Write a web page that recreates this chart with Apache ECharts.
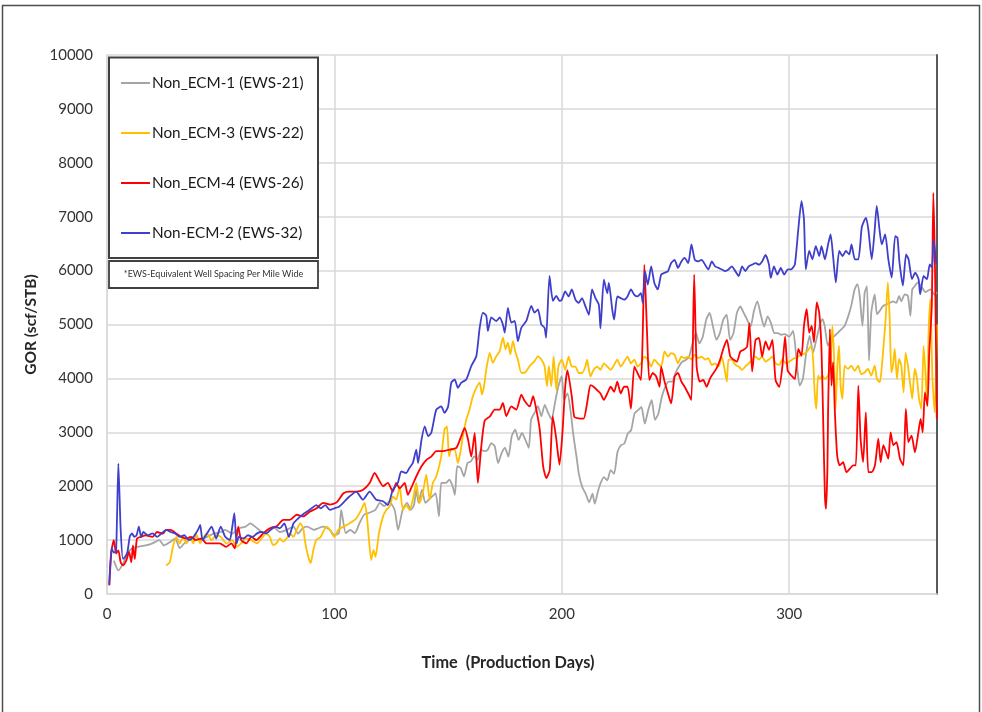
<!DOCTYPE html>
<html>
<head>
<meta charset="utf-8">
<script src="https://cdn.jsdelivr.net/npm/echarts@6/dist/echarts.min.js"></script>
<style>
  html, body { margin: 0; padding: 0; background: #ffffff; }
  #chart { width: 982px; height: 712px; }
</style>
</head>
<body>
<div id="chart"></div>
<script>
// GOR (scf/STB) versus production day for four non-ECM wells
const seriesNames = ['Non_ECM-1 (EWS-21)', 'Non_ECM-3 (EWS-22)', 'Non_ECM-4 (EWS-26)', 'Non-ECM-2 (EWS-32)'];
const xTicks = [0, 100, 200, 300];
const yTicks = [0, 1000, 2000, 3000, 4000, 5000, 6000, 7000, 8000, 9000, 10000];
const footnote = '*EWS-Equivalent Well Spacing Per Mile Wide';

// [production day, GOR]
const ecm1Points = [[3,620],[5,440],[7,560],[9,750],[11,850],[14,880],[17,900],[20,940],[23,1000],[25,900],[28,970],[30,1030],[32,850],[34,940],[36,1000],[39,1060],[41,1000],[44,1060],[47,1120],[50,1150],[52,1190],[55,1120],[58,1220],[61,1250],[63,1310],[66,1220],[68,1150],[70,1120],[73,1250],[76,1150],[79,1190],[82,1250],[84,1120],[86,1220],[88,1250],[91,1190],[93,1220],[95,1250],[98,1190],[100,1090],[102,1130],[103,1560],[105,1130],[107,1190],[109,1130],[111,1310],[113,1470],[115,1500],[118,1560],[120,1690],[122,1630],[124,1720],[126.5,1560],[128,1190],[130,1560],[132,1690],[133.5,1560],[135,1650],[136,1935],[137,1690],[138.5,1935],[140,1690],[141.5,1750],[143,1810],[144.5,1870],[146,1440],[147,2060],[149,2060],[150.5,2120],[152,2000],[153,1840],[154,2370],[155.5,2340],[157,2180],[158.5,2430],[160,2460],[161.5,2555],[163,2490],[164.5,2680],[166,2650],[167.5,2680],[169,2800],[170.5,2740],[172,2430],[173.5,2610],[175,2710],[176.5,2550],[178,2930],[179.5,3050],[181,2860],[182.5,2990],[184,2860],[185.5,2710],[186.5,3235],[188,3360],[189.5,3485],[191,3300],[192.5,3510],[194,3360],[195.5,3235],[197,3550],[198.5,3855],[200,4040],[201,3600],[202.5,3720],[204,3350],[205,2975],[206.5,2540],[207.5,2230],[209,1985],[210.5,1860],[212,1700],[213.5,1860],[214.5,1675],[216,1920],[217,2050],[218.5,2170],[220,2110],[221.5,2300],[223,2230],[224.5,2635],[226,2760],[227.5,2790],[229,2975],[230.5,3040],[232,3350],[233.5,3410],[235,3470],[236.5,3160],[238,3410],[239.5,3600],[241,3230],[242.5,3350],[244,3660],[245.5,3845],[247,3940],[248.5,3940],[250,4100],[251.5,4220],[253,4310],[254.5,4340],[256,4405],[257.5,4650],[259,4840],[260.5,4650],[262,4775],[263.5,5090],[265,5215],[266.5,4960],[268,4715],[269.5,4840],[271,5090],[272.5,5185],[274,4715],[275.5,4840],[277,5215],[278.5,5335],[280,5215],[281.5,5090],[283,4960],[284.5,5250],[286,5430],[287.5,5180],[289,4960],[290.5,5150],[292,5025],[293.5,4840],[295,4840],[296.5,4810],[298,4820],[300,4775],[301.7,4880],[303,4450],[304.6,3865],[306,3990],[307.5,4480],[309,4790],[310.5,4480],[312,4730],[313.4,4975],[314.6,5100],[315.6,4975],[317,4610],[318.5,4730],[320,4790],[321.5,4850],[323,4915],[324.4,4975],[326,5160],[327.3,5350],[328.8,5655],[330,5750],[331,5530],[332.2,4975],[333.2,5590],[334.2,5710],[335.1,4330],[336.1,5220],[337.6,5560],[338.6,5190],[339.8,5250],[341.2,5340],[342.7,5370],[344.2,5400],[345.6,5430],[347.1,5400],[348.3,5530],[349.3,5430],[350.8,5560],[352.2,5530],[353.3,5160],[354.1,5650],[355.2,5710],[356.6,5780],[358.1,5710],[360,5600],[362,5650],[364,5550],[365,5600]];

const ecm3Points = [[26,530],[27.6,590],[29,875],[30.5,1060],[32,940],[33.4,1060],[35,940],[36.4,1060],[38,940],[39,1125],[41,940],[42,1030],[44,1125],[46,1000],[48,1090],[50,1060],[52.5,940],[55,1000],[57,875],[59,940],[61,1030],[63.5,1000],[66,940],[68,1030],[70,1125],[71.6,1060],[73,910],[74.5,940],[76,1030],[77.5,970],[79,1030],[80.4,1125],[82,1060],[83.4,1190],[85,1310],[86.3,1220],[87,1000],[88.5,690],[89.6,575],[90.7,810],[92,1000],[94,1060],[95,1150],[96.6,1250],[98,1190],[100,1060],[101.7,1190],[104,1250],[106.6,1310],[109.6,1400],[111.8,1560],[113.3,1690],[114.3,1440],[115.2,1010],[116.2,630],[117.2,820],[118.1,690],[119.6,1130],[121.4,1440],[122.8,1560],[124.3,1625],[125.7,1810],[127.2,1750],[128.7,2000],[130.1,1560],[131.6,1650],[133,1560],[134.5,1750],[136,2060],[137.4,1690],[138.9,1880],[140.4,2215],[141.9,1750],[143.3,2060],[144.8,2180],[147,2555],[148.4,3050],[149.5,3110],[150.4,2555],[151.4,2680],[152.9,2680],[154.3,2430],[155.5,2650],[156.5,2930],[158,3235],[159.4,3420],[160.9,3670],[162.4,3825],[163.9,3920],[164.9,3700],[165.8,3855],[166.8,4165],[168.3,4475],[169.7,4290],[171.2,4410],[172.7,4505],[174.1,4755],[175.3,4540],[176.3,4665],[177.4,4445],[178.5,4690],[179.7,4475],[180.7,4350],[182.2,4105],[183.7,4105],[185.9,4230],[188,4320],[189.5,4410],[191,4350],[192.4,4230],[193.5,3855],[194.3,4230],[195.4,3855],[196.4,4410],[197.6,3780],[198.5,4220],[200,4350],[201.5,4160],[203,4405],[204.4,4220],[206,4220],[207.4,4100],[208.9,4100],[210.4,4220],[211.1,4350],[212.6,4035],[214,4160],[215.6,4220],[217,4160],[218.5,4280],[220,4220],[221.5,4160],[223,4250],[224.4,4350],[225.9,4220],[227.4,4310],[228.9,4405],[230.4,4280],[231.9,4350],[233.3,4220],[234.8,4280],[236.3,4405],[237.8,4350],[239.3,4220],[240.7,4350],[242.2,4280],[243.7,4220],[245.2,4500],[246.7,4405],[248.1,4470],[249.6,4440],[251.1,4280],[252.6,4405],[254,4375],[255.6,4405],[257,4350],[258.5,4440],[260,4375],[261.5,4405],[263,4350],[264.4,4375],[266,4250],[267.4,4280],[268.9,4220],[270.4,4405],[271.6,4160],[272.6,3940],[273.3,4350],[274.8,4350],[276.3,4250],[277.8,4220],[279.3,4160],[280.7,4220],[282.2,4280],[283.7,4350],[285.2,4405],[286.7,4350],[288.1,4405],[289.6,4310],[291.1,4350],[292.6,4405],[294,4280],[295.6,4250],[297,4350],[298.5,4280],[300,4310],[301.7,4360],[304.6,4420],[307.5,4480],[309.7,4605],[310.5,4360],[311.2,3740],[311.9,3435],[312.7,4050],[313.4,3990],[314.6,4050],[315.6,3990],[317.1,4050],[318.1,4235],[319,4975],[319.7,4420],[320.4,3435],[321.2,4235],[321.9,4605],[322.6,3865],[323.4,3620],[324.4,4235],[325.9,4175],[327.3,4235],[328.8,4140],[330.3,4235],[331.7,4080],[333.2,4110],[334.6,4175],[336.1,4050],[337.6,4235],[338.6,3990],[339.8,3930],[340.5,4110],[341.5,4605],[342.4,5100],[343.4,5780],[344.2,5100],[344.9,4110],[345.6,4235],[346.4,4545],[347.4,3990],[348.3,4360],[349.3,4235],[350.3,3740],[351.2,4480],[352.2,4235],[353.3,3865],[354.1,3620],[355.2,4175],[356.2,3990],[357.1,3620],[358.1,3435],[359.1,4605],[359.9,4110],[360.6,3490],[361.3,4850],[362.1,5470],[363,3990],[364,3370],[365,5000]];

const ecm4Points = [[1,160],[2,810],[3,1000],[4,750],[5,810],[6,590],[7,530],[8.5,625],[9.7,780],[10.7,590],[11.4,900],[12.2,650],[13.2,1030],[15,1060],[17,1090],[20,1060],[22,1150],[24.6,1120],[26,1190],[28,1190],[30.5,1120],[32.7,1060],[35,1030],[37,1060],[39,1000],[41.5,1030],[43.7,940],[46.7,940],[49.6,940],[52.5,875],[54.7,940],[56.2,845],[57.7,1250],[59,1000],[61.3,940],[63.5,1060],[65.7,1000],[68.7,1125],[71.6,1220],[74.5,1250],[77.5,1375],[80.4,1375],[83.4,1470],[86.3,1440],[89.3,1530],[92.2,1590],[95,1690],[98,1660],[101,1700],[104,1870],[106.6,1900],[109.6,1900],[112.5,1930],[115.5,2060],[117.7,2245],[119.9,2090],[121.4,2000],[123.5,2060],[125.7,1900],[127.2,2060],[128.7,1960],[130.9,2060],[132.3,1840],[133.8,1970],[136,2180],[138.3,2370],[140.5,2490],[142.6,2550],[144.8,2650],[147.8,2650],[150.7,2680],[153.6,2710],[155.8,2930],[157.3,3080],[158.8,2860],[160.2,2550],[161.7,2990],[163.1,2060],[164.6,2740],[166.1,3220],[168.3,3290],[170.5,3420],[172.7,3420],[174.1,3545],[175.6,3300],[177.8,3480],[180,3420],[182.2,3700],[183.7,3580],[185.9,3480],[187.4,3670],[188.8,3420],[190.3,3050],[191.8,2370],[193.2,2150],[194.7,2300],[196,3300],[197.5,2900],[199,2400],[200.3,3000],[201.5,3845],[202.5,4150],[204.4,3660],[205.5,3290],[207.4,3260],[209.6,3255],[211.1,3535],[212.6,3875],[214,3845],[215.6,3780],[217,3720],[218.5,3600],[220,3720],[221.5,3845],[223,3750],[224.4,3940],[225.9,3720],[227.4,3845],[228.9,3845],[230.4,3440],[231.9,4220],[233.3,4100],[234.8,3970],[235.6,4840],[236.3,6110],[237.5,4840],[238.5,3970],[240,4100],[241.5,4035],[243,3845],[243.7,4220],[245.2,3940],[246.7,3720],[248.1,3535],[249.6,4035],[251.1,4100],[252.6,3940],[254,3845],[255.6,3720],[257,3600],[258.2,5925],[259.3,4220],[260.7,3940],[262.2,3970],[263.7,3845],[265.2,4000],[266.7,4100],[268.1,4190],[269.6,4345],[271.1,4560],[272.6,4715],[274.1,4405],[275.6,4345],[277,4310],[278.5,4500],[280,4530],[281.5,4590],[282.5,5025],[283.7,4125],[285.2,4715],[286.7,4750],[288.1,4405],[289.6,4685],[291.1,4530],[292.6,4715],[294,3970],[295.6,3845],[297,4220],[298.2,4775],[299.3,4150],[301,4050],[302.5,3990],[304,4545],[305.4,4420],[306.5,4975],[307.7,5285],[308.8,4850],[309.9,4975],[310.9,4670],[312.1,5410],[313.2,5220],[314.2,4545],[315,3125],[315.7,1830],[316.2,1580],[316.8,2300],[317.1,3370],[317.9,4915],[318.6,3865],[319.3,4300],[320.1,3370],[321.1,2570],[322.2,2385],[323.7,2445],[325.2,2260],[326.6,2320],[328.1,2385],[329.3,2385],[330.4,3865],[331.4,2880],[332.5,2445],[333.7,3370],[334.8,2260],[336.3,2260],[337.7,2385],[339.2,2880],[340.2,2445],[341.4,2760],[342.6,2630],[343.6,2510],[344.6,3000],[345.8,2760],[347.2,2815],[348.7,2510],[350.2,2385],[351.3,3435],[352.4,2815],[353.8,2940],[355.3,2630],[356.8,3000],[357.8,3250],[358.7,3000],[359.7,3740],[360.8,3490],[361.6,4480],[362.7,5345],[363.4,7440],[364.2,5840],[364.9,3250]];

const ecm2Points = [[1,170],[2,850],[3,770],[4,800],[5,2420],[6,1200],[7,650],[8,690],[9,780],[10,1060],[11,1125],[12,1060],[13,1090],[14,1250],[15,1060],[16,1150],[18,1090],[20,1125],[22,1060],[24,1125],[26,1190],[28,1150],[30,1125],[32,1060],[34,1090],[36,1000],[38,1060],[40,1190],[41,1280],[42,1000],[44,1125],[46,1250],[48,1030],[50,1250],[52,1060],[54,1000],[55,1220],[56,1500],[57,940],[58,1060],[60,1030],[62,1090],[64,1060],[66,1125],[68,1150],[70,1125],[72,1190],[74,1250],[76,1220],[78,1310],[80,1060],[82,1310],[84,1400],[86,1470],[88,1530],[90,1590],[92,1650],[94,1590],[96,1650],[98,1560],[100,1590],[102,1620],[104.5,1720],[106.6,1810],[109.6,1900],[112.5,1750],[115.5,1900],[118.4,1750],[121.4,1720],[123.5,1650],[125.7,1935],[127.9,2060],[129.4,2275],[131.6,2245],[133,2340],[134.5,2430],[136,2680],[136.8,2430],[138.3,2860],[139.7,3110],[141.2,2930],[142.6,2990],[144.8,3420],[147,3480],[148.4,3360],[150,3480],[151.4,3920],[152.9,3980],[154.3,3825],[155.8,3920],[158,3980],[160.2,4230],[162.4,4410],[163.9,4940],[165.3,5220],[166.8,5160],[167.5,4880],[169,5130],[171.2,5065],[172.7,5130],[174.1,5000],[174.9,4850],[176.3,5310],[177.8,5035],[179.3,5065],[180.7,4690],[182.2,4940],[184.4,5065],[186.6,5345],[188,5220],[189.5,5280],[191,5000],[192.4,4940],[193.1,4755],[194.6,5900],[196.1,5440],[197.6,5530],[199,5440],[200,5460],[201.5,5615],[203,5520],[204.4,5650],[206,5460],[207.4,5400],[208.9,5490],[210.4,5335],[211.9,5180],[213.3,5650],[214.8,5490],[216.3,5365],[217,4930],[218.5,5830],[220,5580],[220.7,5770],[222.2,5270],[223,5090],[224.4,5520],[225.9,5490],[227.4,5460],[228.9,5520],[230.4,5650],[231.9,5550],[233.3,5520],[234.8,5580],[235.6,5400],[236.6,5990],[237.8,5740],[239.3,6080],[240.7,5770],[242.2,5650],[243.7,5925],[245.2,5960],[246.7,5990],[248.1,6140],[249.6,6200],[251.1,6050],[252.6,6170],[254,6235],[255.6,6140],[257,6485],[258.5,6200],[260,6170],[261.5,6200],[263,6110],[264.4,6020],[266,6170],[267.4,6080],[268.9,6050],[270.4,6020],[271.9,5990],[273.3,6020],[274.8,6080],[276.3,5990],[277.8,5900],[279.3,6080],[280.7,5990],[282.2,6080],[283.7,6110],[285.2,6140],[286.7,6110],[288.1,6170],[289.6,6290],[291.1,6110],[291.9,5865],[293.3,6080],[294.8,5925],[296.3,6050],[297.8,5925],[299.3,6020],[301,6025],[302.5,6115],[304,6765],[305.4,7290],[306.5,6950],[307.3,6025],[308.8,6365],[310.2,6210],[311.7,6455],[313.2,6270],[314.2,6455],[315.7,6210],[317.1,6485],[318.2,6670],[319.3,6270],[320.5,5780],[322,6365],[323.5,6270],[324.9,6365],[326.4,6300],[327.4,6485],[328.9,6210],[330.4,6210],[331.9,6800],[332.9,6920],[333.8,6980],[334.8,6765],[336.3,6210],[337.5,6700],[338.5,7200],[339.7,6765],[340.7,6485],[342.2,6670],[343.6,6210],[345.1,5870],[346.6,6640],[347.6,6610],[348.5,6150],[350,5720],[351.4,6300],[352.5,6210],[354,5840],[355.4,5960],[356.9,5840],[357.6,5560],[359.1,5900],[360.6,5840],[361.8,6115],[362.8,6055],[363.5,6580],[364.7,6120]];

const seriesPoints = [ecm1Points, ecm3Points, ecm4Points, ecm2Points];
const seriesColors = ['#a5a5a5', '#ffc000', '#ff0000', '#3f3fcc'];

const FONT = 'Lato, "Open Sans", sans-serif';
const chart = echarts.init(document.getElementById('chart'), null, { renderer: 'canvas' });

const option = {
  animation: false,
  backgroundColor: '#ffffff',
  textStyle: { fontFamily: FONT },
  grid: { left: 107, right: 45, top: 55, bottom: 118, containLabel: false },
  legend: {
    show: true,
    orient: 'vertical',
    left: 121,
    top: 73,
    padding: 0,
    icon: 'rect',
    itemWidth: 29,
    itemHeight: 2,
    itemGap: 30,
    data: seriesNames,
    textStyle: { fontFamily: FONT, fontSize: 15.3, color: '#1a1a1a', lineHeight: 20, padding: [0, 0, 0, -3] },
    z: 10
  },
  xAxis: {
    type: 'value',
    min: 0,
    max: 365,
    interval: 100,
    name: 'Time  (Production Days)',
    nameLocation: 'middle',
    nameGap: 61,
    nameTextStyle: { fontFamily: FONT, fontSize: 16.3, fontWeight: 'bold', color: '#262626', padding: [0, 28, 0, 0] },
    axisLine: { show: true, lineStyle: { color: '#d9d9d9', width: 1.5 } },
    axisTick: { show: false },
    axisLabel: {
      fontFamily: FONT, fontSize: 15, color: '#333333', margin: 13,
      showMaxLabel: false,
      formatter: v => (xTicks.indexOf(v) >= 0 ? String(v) : '')
    },
    splitLine: { show: true, lineStyle: { color: '#d9d9d9', width: 1.5 } }
  },
  yAxis: [{
    type: 'value',
    min: yTicks[0],
    max: yTicks[yTicks.length - 1],
    interval: 1000,
    name: 'GOR (scf/STB)',
    nameLocation: 'middle',
    nameGap: 57,
    nameTextStyle: { fontFamily: FONT, fontSize: 15.5, fontWeight: 'bold', color: '#262626' },
    axisLine: { show: true, lineStyle: { color: '#d9d9d9', width: 1.5 } },
    axisTick: { show: false },
    axisLabel: { fontFamily: FONT, fontSize: 15, color: '#333333', margin: 14, formatter: v => String(v) },
    splitLine: { show: true, lineStyle: { color: '#d9d9d9', width: 1.5 } }
  }, {
    type: 'value',
    position: 'right',
    min: yTicks[0],
    max: yTicks[yTicks.length - 1],
    axisLine: { show: true, lineStyle: { color: '#595959', width: 2 } },
    axisTick: { show: false },
    axisLabel: { show: false },
    splitLine: { show: false }
  }],
  series: seriesNames.map((name, i) => ({
    name: name,
    type: 'line',
    yAxisIndex: 0,
    data: seriesPoints[i],
    symbol: 'none',
    smooth: 0.2,
    lineStyle: { color: seriesColors[i], width: 1.8 },
    itemStyle: { color: seriesColors[i] },
    z: 2 + i
  })),
  graphic: [
    // outer frame
    { type: 'rect', z: 0, silent: true,
      shape: { x: 2.5, y: 5.5, width: 977, height: 720 },
      style: { fill: 'none', stroke: '#4d4d4d', lineWidth: 1.5 } },
    // legend box
    { type: 'rect', z: 5, silent: true,
      shape: { x: 109, y: 57.5, width: 209, height: 200.5 },
      style: { fill: '#ffffff', stroke: '#404040', lineWidth: 2 } },
    // footnote box
    { type: 'rect', z: 5, silent: true,
      shape: { x: 109, y: 261, width: 209, height: 27 },
      style: { fill: '#ffffff', stroke: '#404040', lineWidth: 1.8 } },
    { type: 'text', z: 6, silent: true,
      x: 213.5, y: 274.5,
      style: { text: footnote, fontFamily: FONT, fontSize: 9, fill: '#333333', align: 'center', verticalAlign: 'middle' } }
  ]
};

chart.setOption(option);
</script>
</body>
</html>
